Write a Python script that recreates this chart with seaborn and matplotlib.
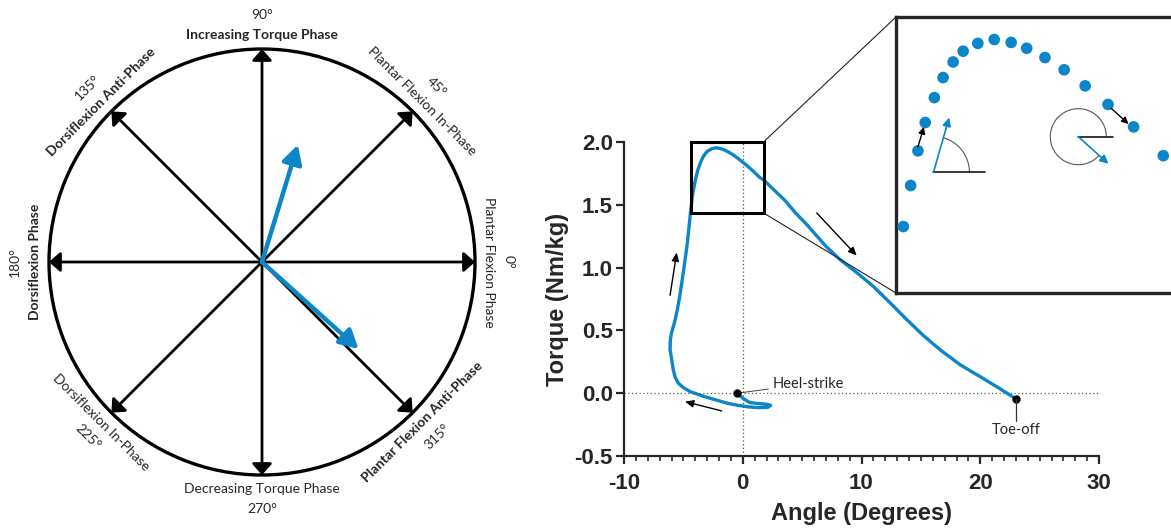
import pandas as pd
import numpy as np
import seaborn as sns
import matplotlib.pyplot as plt
import matplotlib.transforms as mtransforms
from matplotlib.patches import Circle, Rectangle, Arc, ConnectionPatch
from matplotlib.ticker import MultipleLocator

# ---- phase wheel (left) ----
phase_angles = [0, 45, 90, 135, 180, 225, 270, 315]
phase_names = ["Plantar Flexion Phase", "Plantar Flexion In-Phase", "Increasing Torque Phase",
               "Dorsiflexion Anti-Phase", "Dorsiflexion Phase", "Dorsiflexion In-Phase",
               "Decreasing Torque Phase", "Plantar Flexion Anti-Phase"]
phase_bold = [False, False, True, True, True, False, False, True]
example_angles = [73, -42]
example_lengths = [0.575, 0.61]

# ---- angle-torque loop (right), heel-strike -> toe-off ----
loading_angle = [-0.46, 0.0, 0.6, 1.4, 2.0, 2.35, 2.1, 1.3, 0.4, -0.5, -1.3, -2.2, -3.3, -4.44,
                 -5.0, -5.43, -5.7, -5.85, -5.98, -6.12, -6.1, -6.0, -5.73, -5.5, -5.31, -5.1,
                 -4.89, -4.7, -4.55, -4.4]
loading_torque = [0.0, -0.04, -0.075, -0.083, -0.088, -0.097, -0.113, -0.115, -0.108, -0.095,
                  -0.08, -0.055, -0.025, 0.013, 0.045, 0.08, 0.13, 0.186, 0.266, 0.345, 0.42,
                  0.48, 0.57, 0.67, 0.77, 0.9, 1.04, 1.17, 1.3, 1.44]
# samples inside the zoomed window
zoom_angle = [-4.24, -4.08, -3.92, -3.76, -3.56, -3.37, -3.15, -2.93, -2.61, -2.25, -1.88, -1.54,
              -1.14, -0.72, -0.26, 0.24, 0.80, 1.45]
zoom_torque = [1.571, 1.655, 1.726, 1.784, 1.835, 1.876, 1.908, 1.930, 1.946, 1.954, 1.948, 1.936,
               1.917, 1.892, 1.859, 1.821, 1.775, 1.716]
push_angle = [1.75, 2.5, 3.5, 4.5, 5.42, 7.0, 8.2, 9.6, 11.0, 12.4, 13.82, 15.2, 16.62, 18.31,
              19.99, 21.5, 23.0]
push_torque = [1.70, 1.63, 1.54, 1.43, 1.34, 1.17, 1.063, 0.96, 0.85, 0.72, 0.585, 0.46, 0.346,
               0.226, 0.132, 0.045, -0.045]

heel_strike = (-0.46, 0.0)
toe_off = (23.0, -0.045)
direction_arrows = [((-6.12, 0.78), (-5.56, 1.12)),
                    ((6.23, 1.435), (9.6, 1.095)),
                    ((-1.77, -0.141), (-4.86, -0.067))]
zoom_box = (-4.4, 1.75, 1.435, 2.0)

blue = "#0a86c9"

sns.set_style("ticks")
plt.rcParams['font.family'] = ['Lato', 'DejaVu Sans']
plt.rcParams['axes.unicode_minus'] = False

fig = plt.figure(figsize=(11.71, 5.28), dpi=100)

# ---------------- left: phase wheel ----------------
ax0 = fig.add_axes([0, 0, 530 / 1171, 1])
ax0.set_xlim(-262 / 213, 268 / 213)
ax0.set_ylim(-266 / 213, 262 / 213)
ax0.axis("off")
ax0.add_patch(Circle((0, 0), 1.0, fill=False, lw=2.4, ec="black"))

for ang, name, bold in zip(phase_angles, phase_names, phase_bold):
    t = np.deg2rad(ang)
    ax0.annotate("", xy=(np.cos(t), np.sin(t)), xytext=(0, 0),
                 arrowprops=dict(arrowstyle="-|>,head_length=0.45,head_width=0.4", lw=2,
                                 color="black", shrinkA=0, shrinkB=0, mutation_scale=15))
    rot = ang - 90 if ang <= 180 else ang - 270
    ax0.text(1.065 * np.cos(t), 1.065 * np.sin(t), name, rotation=rot, rotation_mode="anchor",
             ha="center", va="center", fontsize=10, fontweight="bold" if bold else "normal")
    ax0.text(1.16 * np.cos(t), 1.16 * np.sin(t), f"{ang}°", rotation=rot,
             rotation_mode="anchor", ha="center", va="center", fontsize=10)

for ang, ln in zip(example_angles, example_lengths):
    t = np.deg2rad(ang)
    ax0.annotate("", xy=(ln * np.cos(t), ln * np.sin(t)), xytext=(0, 0),
                 arrowprops=dict(arrowstyle="-|>,head_length=0.55,head_width=0.3", lw=3.2,
                                 color=blue, shrinkA=0, shrinkB=0, mutation_scale=20))

# ---------------- right: angle-torque loop ----------------
loop = pd.DataFrame({
    "angle": loading_angle + zoom_angle + push_angle,
    "torque": loading_torque + zoom_torque + push_torque,
})

ax = fig.add_axes([624 / 1171, 72 / 528, 475 / 1171, 314 / 528])
ax.axhline(0, ls=(0, (1, 2)), color="#555555", lw=0.9, zorder=1)
ax.axvline(0, ls=(0, (1, 2)), color="#555555", lw=0.9, zorder=1)
sns.lineplot(data=loop, x="angle", y="torque", sort=False, estimator=None, color=blue,
             lw=2.4, ax=ax, zorder=3)
ax.set_xlim(-10, 30)
ax.set_ylim(-0.5, 2.0)
ax.set_xticks([-10, 0, 10, 20, 30])
ax.set_yticks([-0.5, 0.0, 0.5, 1.0, 1.5, 2.0])
ax.set_yticklabels(["-0.5", "0.0", "0.5", "1.0", "1.5", "2.0"])
ax.xaxis.set_minor_locator(MultipleLocator(1))
for s in ["top", "right"]:
    ax.spines[s].set_visible(False)
for s in ["left", "bottom"]:
    ax.spines[s].set_linewidth(1.6)
ax.tick_params(which="major", length=6, width=1.6, pad=6)
ax.tick_params(axis="y", which="major", pad=2)
ax.tick_params(which="minor", length=3.5, width=1.2)
for lab in ax.get_xticklabels() + ax.get_yticklabels():
    lab.set_fontfamily("Liberation Sans")
    lab.set_fontweight("bold")
    lab.set_fontsize(16)
ax.set_xlabel("Angle (Degrees)", fontfamily="Liberation Sans", fontweight="bold",
              fontsize=17, labelpad=6)
ax.set_ylabel("Torque (Nm/kg)", fontfamily="Liberation Sans", fontweight="bold",
              fontsize=17, labelpad=4)

ax.plot(*heel_strike, "o", color="black", ms=5, zorder=4)
ax.plot(*toe_off, "o", color="black", ms=5, zorder=4)
ax.annotate("Heel-strike", xy=heel_strike, xytext=(2.55, 0.075), ha="left", va="center",
            fontsize=10.5, arrowprops=dict(arrowstyle="-", lw=0.7, color="#444444",
                                           shrinkA=1, shrinkB=2))
# toe-off label with a short leader straight down from the event marker
ax.plot([toe_off[0], toe_off[0]], [toe_off[1], -0.225], color="#333333", lw=0.9, zorder=4)
ax.text(toe_off[0], -0.29, "Toe-off", ha="center", va="center", fontsize=10.5)
for start, end in direction_arrows:
    ax.annotate("", xy=end, xytext=start,
                arrowprops=dict(arrowstyle="-|>,head_length=0.5,head_width=0.22", lw=1,
                                color="black", mutation_scale=10, shrinkA=0, shrinkB=0))

x0, x1, y0, y1 = zoom_box
ax.add_patch(Rectangle((x0, y0), x1 - x0, y1 - y0, fill=False, lw=2.2, ec="black",
                       zorder=5, clip_on=False))

# ---------------- inset: zoomed window ----------------
ax_in = fig.add_axes([896 / 1171, 235 / 528, 281 / 1171, 276 / 528])
sns.scatterplot(x=zoom_angle, y=zoom_torque, s=70, color=blue, edgecolor="none", ax=ax_in,
                zorder=3)
ax_in.set_xlim(x0, x1)
ax_in.set_ylim(y0, y1)
ax_in.set_xticks([])
ax_in.set_yticks([])
for s in ax_in.spines.values():
    s.set_linewidth(2.4)
    s.set_visible(True)

for xyA, xyB in [((x1, y1), (0, 1)), ((x1, y0), (0, 0))]:
    fig.add_artist(ConnectionPatch(xyA=xyA, coordsA=ax.transData, xyB=xyB,
                                   coordsB=ax_in.transAxes, lw=0.8, color="#222222"))

# arrows between successive samples
for start, end in [((-3.92, 1.734), (-3.79, 1.775)), ((0.31, 1.813), (0.69, 1.781))]:
    ax_in.annotate("", xy=end, xytext=start,
                   arrowprops=dict(arrowstyle="-|>,head_length=0.5,head_width=0.25", lw=1,
                                   color="black", mutation_scale=8, shrinkA=0, shrinkB=0))


def phase_sketch(origin, ref_len, vec_deg, vec_len, arc_r, arc_span):
    # small coupling-angle sketch drawn in inches around a data point
    trans = fig.dpi_scale_trans + mtransforms.ScaledTranslation(origin[0], origin[1],
                                                                 ax_in.transData)
    ax_in.plot([0, ref_len], [0, 0], color="black", lw=1.1, transform=trans)
    ax_in.add_patch(Arc((0, 0), 2 * arc_r, 2 * arc_r, theta1=0, theta2=arc_span,
                        color="#555555", lw=0.8, transform=trans))
    t = np.deg2rad(vec_deg)
    ax_in.annotate("", xy=(vec_len * np.cos(t), vec_len * np.sin(t)), xytext=(0, 0),
                   xycoords=trans, textcoords=trans,
                   arrowprops=dict(arrowstyle="-|>,head_length=0.5,head_width=0.25", lw=1.2,
                                   color=blue, mutation_scale=10, shrinkA=0, shrinkB=0))


phase_sketch((-3.58, 1.682), 0.52, 74, 0.57, 0.36, 74)
phase_sketch((-0.41, 1.755), 0.35, -42, 0.405, 0.28, 318)

fig.savefig("out.png", dpi=100)
